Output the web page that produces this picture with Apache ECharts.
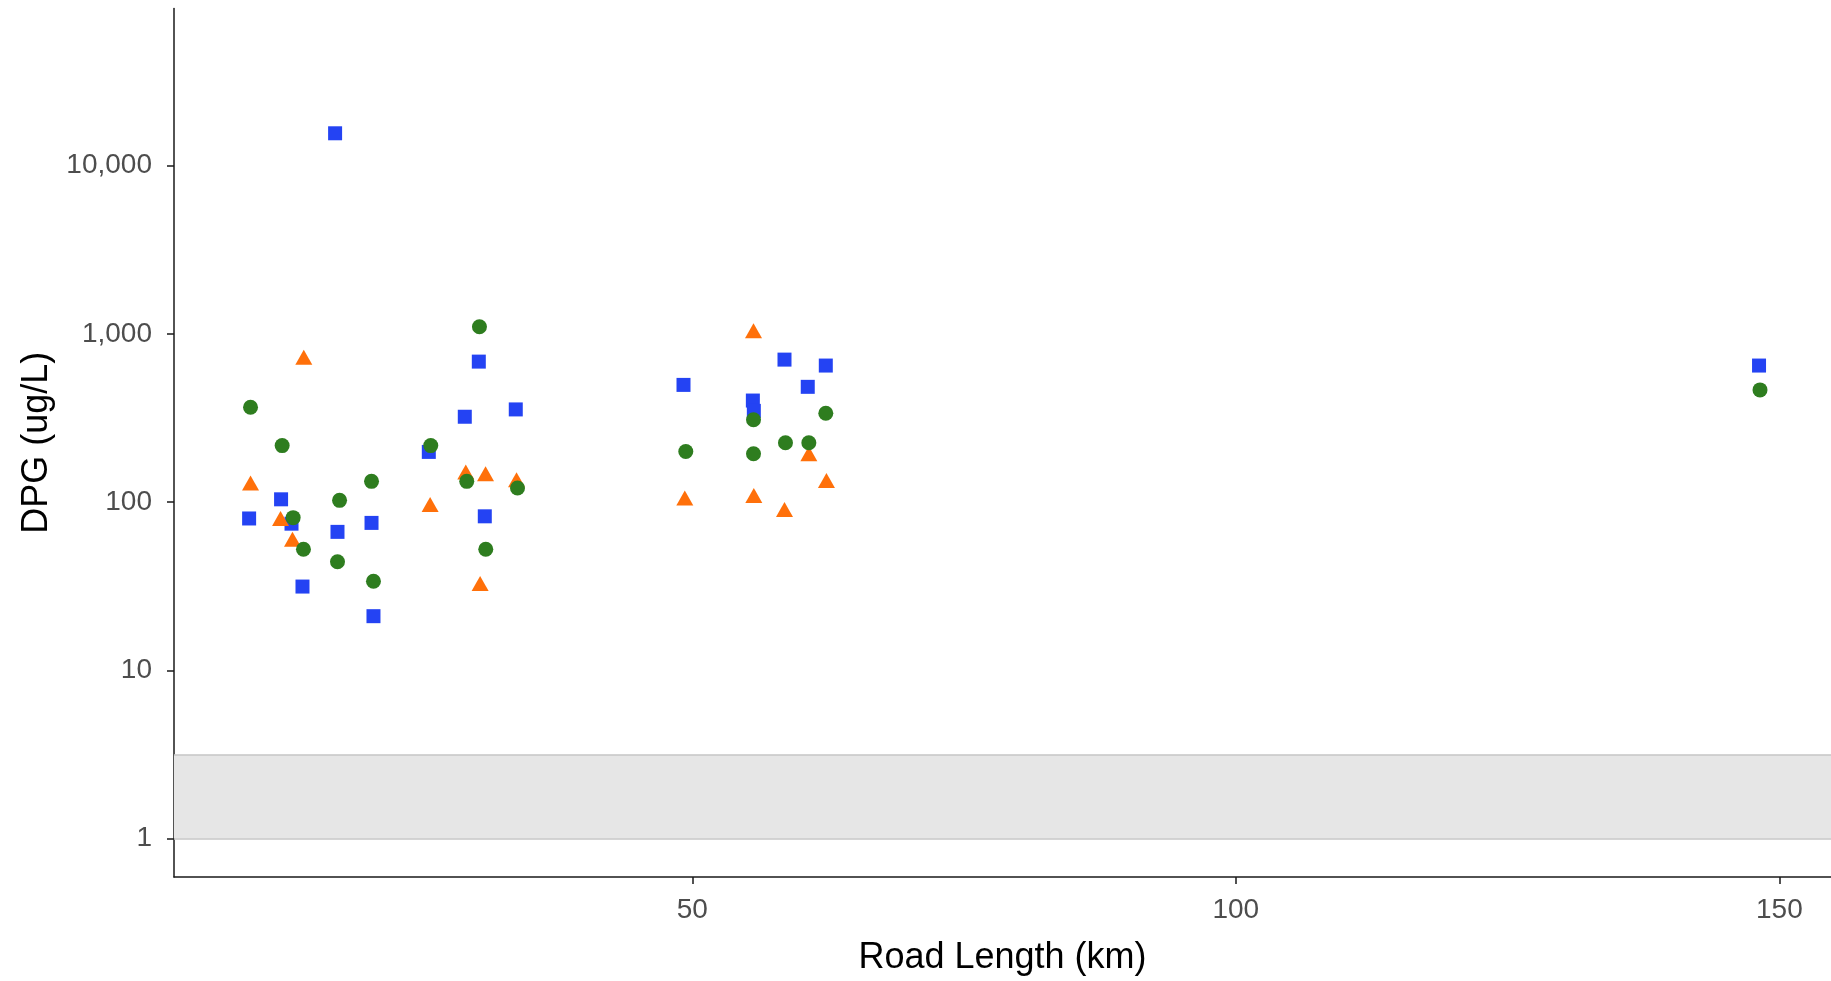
<!DOCTYPE html>
<html>
<head>
<meta charset="utf-8">
<script src="https://cdn.jsdelivr.net/npm/echarts@6/dist/echarts.min.js"></script>
<style>
html, body { margin: 0; padding: 0; background: #ffffff; }
#chart { width: 1831px; height: 981px; }
</style>
</head>
<body>
<div id="chart"></div>
<script>
// Road length (km) against DPG concentration (ug/L), three sample groups
const blueX = [9.23, 12.17, 13.13, 14.14, 17.14, 17.36, 20.49, 20.67, 25.76, 29.07,
               30.36, 30.91, 33.76, 49.19, 55.57, 55.66, 58.48, 60.62, 62.28, 148.13];
const blueY = [80, 104, 74.5, 31.5, 15600, 66.6, 75.3, 21.0, 199, 322,
               685, 82.4, 356, 498, 402, 349, 704, 485, 649, 649];

const orangeX = [9.36, 12.12, 13.22, 14.26, 25.88, 29.16, 30.48, 30.98, 33.83, 49.31,
                 55.63, 55.66, 58.48, 60.72, 62.34];
const orangeY = [130, 80, 60.2, 727, 97, 151, 32.8, 147.6, 136, 106,
                 1046, 109.7, 90.6, 194, 134.6];

const greenX = [9.36, 12.27, 13.28, 14.23, 17.36, 17.55, 20.49, 20.67, 25.94, 29.25,
                30.42, 31.00, 33.92, 49.40, 55.63, 55.63, 58.57, 60.72, 62.28, 148.22];
const greenY = [367, 217, 80.9, 52.5, 44.2, 102.5, 133, 33.9, 217, 133,
                1105, 52.5, 121.4, 200, 309, 194, 225.5, 225.5, 338, 465];

// Axis ticks and the shaded band (lower/upper bound in ug/L)
const xTicks = [50, 100, 150];
const yTicks = [1, 10, 100, 1000, 10000];
const bandRange = [1, 3.15];

const pairs = (xs, ys) => xs.map((x, i) => [x, ys[i]]);

const FONT = "'Liberation Sans', Arial, sans-serif";
const AXIS_COLOR = '#1a1a1a';
const axisLine = { show: true, onZero: false, lineStyle: { color: AXIS_COLOR, width: 1.5 } };

const chart = echarts.init(document.getElementById('chart'), null, { renderer: 'canvas' });
chart.setOption({
  animation: false,
  backgroundColor: '#ffffff',
  grid: { left: 174, right: 0, top: 8.5, bottom: 102 },
  xAxis: {
    type: 'value',
    min: 2.32,
    max: 154.75,
    axisLine: axisLine,
    axisTick: { show: true, length: 7, customValues: xTicks, lineStyle: { color: AXIS_COLOR, width: 1.5 } },
    axisLabel: { customValues: xTicks, color: '#4D4D4D', fontSize: 28, fontFamily: FONT, margin: 19 },
    splitLine: { show: false },
    name: 'Road Length (km)',
    nameLocation: 'middle',
    nameGap: 63,
    nameTextStyle: { color: '#000000', fontSize: 36, fontFamily: FONT }
  },
  yAxis: {
    type: 'log',
    logBase: 10,
    min: 0.591,
    max: 86100,
    axisLine: axisLine,
    axisTick: { show: true, length: 7, customValues: yTicks, lineStyle: { color: AXIS_COLOR, width: 1.5 } },
    axisLabel: {
      customValues: yTicks,
      color: '#4D4D4D', fontSize: 28, fontFamily: FONT, margin: 22,
      padding: [6, 0, 0, 0],
      formatter: v => Number(v).toLocaleString('en-US')
    },
    splitLine: { show: false },
    name: 'DPG (ug/L)',
    nameLocation: 'middle',
    nameGap: 114,
    nameTextStyle: { color: '#000000', fontSize: 36, fontFamily: FONT }
  },
  series: [
    {
      type: 'scatter',
      data: pairs(blueX, blueY),
      symbol: 'rect',
      symbolSize: 14,
      itemStyle: { color: '#2443F3', opacity: 1 },
      markArea: {
        silent: true,
        itemStyle: { color: '#E6E6E6', borderWidth: 0 },
        data: [[{ yAxis: bandRange[0] }, { yAxis: bandRange[1] }]]
      },
      markLine: {
        silent: true,
        symbol: 'none',
        label: { show: false },
        lineStyle: { color: '#C6C6C6', width: 1.5, type: 'solid' },
        data: bandRange.map(v => ({ yAxis: v }))
      }
    },
    {
      type: 'scatter',
      data: pairs(orangeX, orangeY),
      symbol: 'triangle',
      symbolSize: [17, 15],
      itemStyle: { color: '#FF700A', opacity: 1 }
    },
    {
      type: 'scatter',
      data: pairs(greenX, greenY),
      symbol: 'circle',
      symbolSize: 15,
      itemStyle: { color: '#2E7D1F', opacity: 1 }
    }
  ]
});
</script>
</body>
</html>
